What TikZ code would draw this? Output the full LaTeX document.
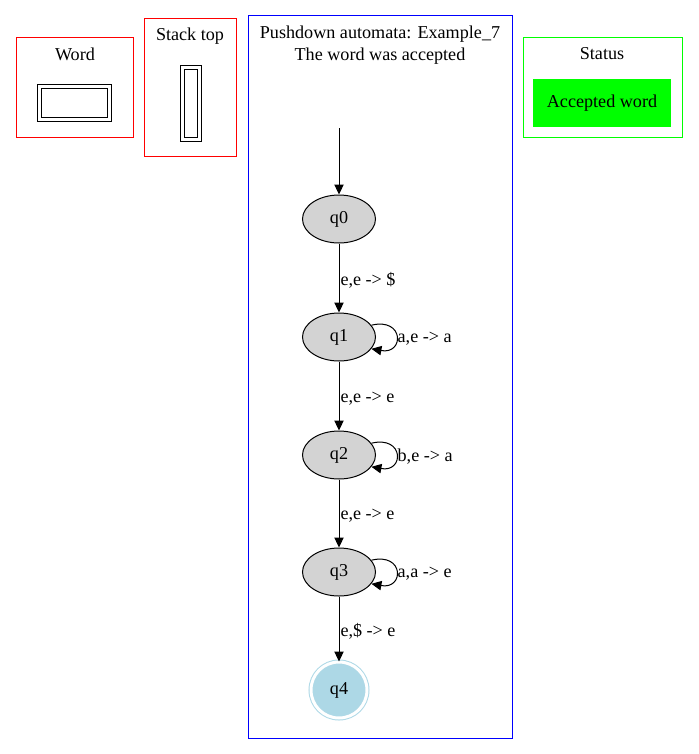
\documentclass[tikz,border=0pt]{standalone}
\usepackage{fontspec}
\setmainfont{Liberation Serif}
\usetikzlibrary{arrows.meta,shapes.geometric,positioning}
\definecolor{lightblue}{HTML}{ADD8E6}
\definecolor{lightgrey}{HTML}{D3D3D3}
\definecolor{boxred}{HTML}{FF0000}
\definecolor{boxblue}{HTML}{0000FF}
\definecolor{boxgreen}{HTML}{00FF00}
\tikzset{
  state/.style={ellipse, draw, fill=lightgrey, minimum width=54.75pt, minimum height=36pt, inner sep=0pt},
  final/.style={circle, draw=lightblue, fill=lightblue, double=white, double distance=2.25pt, minimum size=42pt, inner sep=0pt},
  edge/.style={-{Triangle[length=7.5pt, width=7pt]}},
  lbl/.style={inner sep=0.75pt},
  cluster/.style={line width=0.75pt},
  record/.style={draw, double, double distance=2.25pt, inner sep=0pt}
}
\begin{document}
\begin{tikzpicture}[x=0.75pt, y=-0.75pt, line width=0.75pt, font=\fontsize{13.6pt}{16pt}\selectfont]
    \useasboundingbox (0,0) rectangle (699,754);

    % Word and stack top
    \draw[cluster, boxred] (16,37) rectangle (133,137);
    \node (wordtitle) at (75,54) {Word};
    \node[record, minimum width=52.5pt, minimum height=24.75pt] (word) at (74,102.5) {};

    \draw[cluster, boxred] (144,18) rectangle (236,156);
    \node (stacktitle) at (190,36) {Stack top};
    \node[record, minimum width=12.75pt, minimum height=54pt] (stack) at (190.5,103) {};

    % Status
    \draw[cluster, boxgreen] (523,37) rectangle (682,137);
    \node (statustitle) at (602,54) {Status};
    \node[fill=boxgreen, minimum width=103.5pt, minimum height=36pt, inner sep=0pt] (status) at (602,103) {\raisebox{-2pt}{Accepted word}};

    % Automaton
    \draw[cluster, boxblue] (248,15) rectangle (512,738);
    \node[align=center, inner sep=0pt] (title) at (380,45) {Pushdown automata: Example\_7\\The word was accepted};

    \coordinate (start) at (339,128);
    \node[state] (q0) at (339,219) {q0};
    \node[state] (q1) at (339,337) {q1};
    \node[state] (q2) at (339,455) {q2};
    \node[state] (q3) at (339,572) {q3};
    \node[final] (q4) at (339,690) {q4};

    \draw[edge] (start) -- (q0);
    \draw[edge] (q0) -- node[lbl, right, yshift=-2pt] {e,e -> \$} (q1);
    \draw[edge] (q1) -- node[lbl, right, yshift=-2pt] {e,e -> e} (q2);
    \draw[edge] (q2) -- node[lbl, right, yshift=-2pt] {e,e -> e} (q3);
    \draw[edge] (q3) -- node[lbl, right, yshift=-2pt] {e,\$ -> e} (q4);

    % self loops
    \draw[edge] (q1.20) .. controls +(33,-8) and +(33,6) .. node[lbl, right, yshift=-2pt] {a,e -> a} (q1.-20);
    \draw[edge] (q2.20) .. controls +(33,-8) and +(33,6) .. node[lbl, right, yshift=-2pt] {b,e -> a} (q2.-20);
    \draw[edge] (q3.20) .. controls +(33,-8) and +(33,6) .. node[lbl, right, yshift=-2pt] {a,a -> e} (q3.-20);
\end{tikzpicture}
\end{document}
